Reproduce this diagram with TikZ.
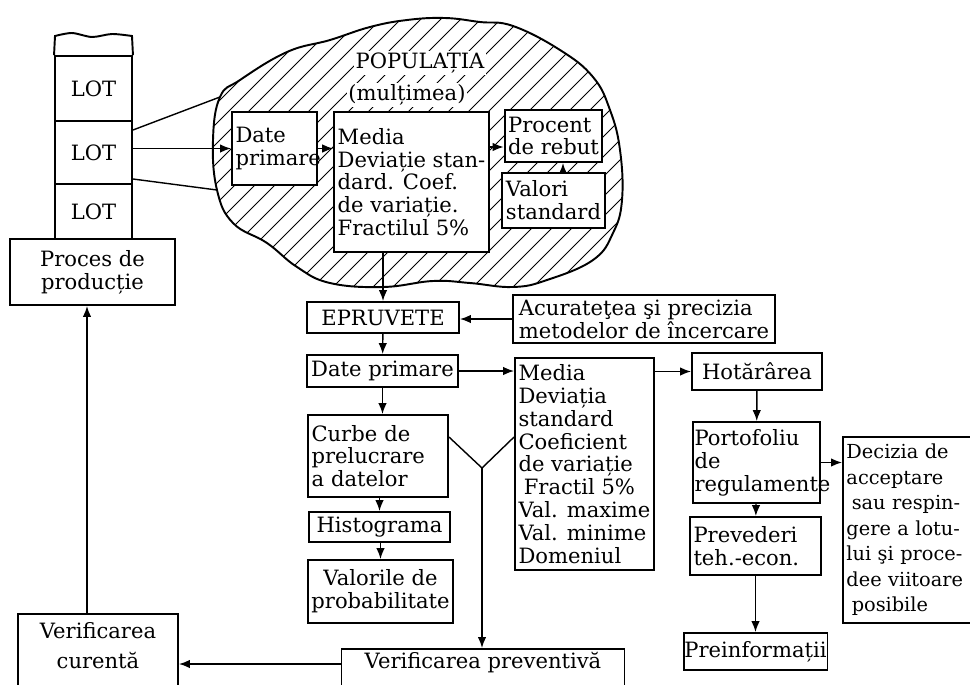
\documentclass[tikz,border=0pt]{standalone}
\usepackage{fontspec}
\setmainfont{DejaVu Serif}
\usetikzlibrary{arrows.meta}

\begin{document}
\begin{tikzpicture}[x=0.02cm, y=-0.02cm,
    >={Latex[length=2.2mm,width=1.7mm]},
    box/.style={draw, line width=1.1pt, fill=white, inner sep=2pt,
        font=\fontsize{12}{13}\selectfont},
    lbl/.style={fill=white, inner sep=1pt, font=\fontsize{12}{13}\selectfont},
    flow/.style={line width=0.8pt}]
    \useasboundingbox (0,0) rectangle (970,684);

    \begin{scope}[line width=1.1pt]
        \path [draw, clip] plot [smooth cycle, tension=0.7] coordinates {
            (213,140) (220,97) (240,80) (287,52) (330,40) (370,27) (407,20) (445,18)
            (480,22) (513,26) (560,50) (593,77) (610,110) (620,150) (622,200) (613,233)
            (593,260) (547,280) (513,287) (470,283) (433,281) (383,287) (330,283)
            (297,267) (267,243) (233,223) (217,190)};
        \foreach \c in {300,320,...,900}
            \draw [line width=0.5pt] ({\c-300},300) -- (\c,0);
    \end{scope}
    \coordinate (bu) at (220,97);
    \coordinate (bl) at (217,190);
    \path (420,63) node [lbl] (pop) {POPULAȚIA};
    \path (407,95) node [lbl] (mult) {(mulțimea)};

    \path (93.5,88.5) node [box, minimum width=1.54cm, minimum height=1.30cm] (lot1) {LOT};
    \path (93.5,152.5) node [box, minimum width=1.54cm, minimum height=1.26cm] (lot2) {LOT};
    \path (93.5,211.5) node [box, minimum width=1.54cm, minimum height=1.10cm] (lot3) {LOT};
    \draw [line width=1.1pt] (lot1.north west) -- plot [smooth] coordinates {(55,36) (72,33) (92,37) (112,34) (132,36)} -- (lot1.north east);
    \path (92.5,272) node [box, align=center, minimum width=3.30cm, minimum height=1.32cm] (prod) {Proces de\\producție};

    \path (274.5,148.5) node [box, align=left, text width=1.56cm, minimum height=1.46cm] (dp1) {Date\\primare};
    \path (411.5,182) node [box, align=left, minimum width=3.06cm, minimum height=2.80cm] (med1) {Media\\Deviație stan-\\dard. Coef.\\de variație.\\Fractilul 5\%};
    \path (553.5,136) node [box, align=left, minimum width=1.94cm, minimum height=1.04cm] (reb) {Procent\\de rebut};
    \path (553.5,200.5) node [box, align=left, minimum width=1.94cm, minimum height=1.10cm] (vst) {Valori\\standard};

    \draw [flow] ([yshift=0.45cm]lot2.east) -- (bu);
    \draw [flow,->] (lot2.east |- dp1.west) -- (dp1.west);
    \draw [flow] ([yshift=-0.53cm]lot2.east) -- (bl);
    \draw [flow,->] (dp1.east) -- (dp1.east -| med1.west);
    \coordinate (rebin) at ([yshift=-0.22cm]reb.west);
    \draw [flow,->] (rebin -| med1.east) -- (rebin);
    \draw [flow,->] ([xshift=0.19cm]vst.north) -- ([xshift=0.19cm]reb.south);

    \path (383,317.5) node [box, minimum width=3.04cm, minimum height=0.62cm] (epr) {EPRUVETE};
    \path (644,319) node [box, align=left, minimum width=5.24cm, minimum height=0.96cm] (acu) {Acurateţea şi precizia\\metodelor de încercare};
    \path (382.5,371) node [box, minimum width=3.02cm, minimum height=0.64cm] (dp2) {Date primare};
    \path (584.5,464) node [box, align=left, minimum width=2.70cm, minimum height=4.24cm] (med2) {Media\\Deviația\\standard\\Coeficient\\de variație\\\hspace{3pt}Fractil 5\%\\Val. maxime\\Val. minime\\Domeniul};
    \path (378,456) node [box, align=left, text width=2.66cm, minimum height=1.64cm] (curbe) {Curbe de\\prelucrare\\a datelor};
    \path (379.5,527) node [box, minimum width=2.82cm, minimum height=0.60cm] (hist) {Histograma};
    \path (380.5,591.5) node [box, align=center, minimum width=2.86cm, minimum height=1.26cm] (valp) {Valorile de\\probabilitate};
    \path (483,648) node [box, anchor=north, minimum width=5.66cm, text depth=1cm] (vprev) {Verificarea preventivă};
    \path (98,613) node [box, anchor=north, align=center, minimum width=3.20cm, inner ysep=5pt, text depth=1.2cm] (vcur) {Verificarea\\[4pt]curentă};

    \path (757,371.5) node [box, minimum width=2.60cm, minimum height=0.74cm] (hot) {Hotărârea};
    \path (756.5,462.5) node [box, align=left, text width=2.48cm, inner xsep=1pt, minimum height=1.62cm] (port) {Portofoliu\\de\\regulamente};
    \path (755.5,546) node [box, align=left, text width=2.48cm, minimum height=1.16cm] (prev) {Prevederi\\teh.-econ.};
    \path (755.5,651.5) node [box, inner xsep=0.5pt, minimum width=2.62cm, minimum height=0.74cm] (pre) {Preinformații};
    \path (842,530) node [box, anchor=west, align=left, text width=2.9cm, minimum height=3.72cm, font=\fontsize{11}{14.5}\selectfont] (dec) {Decizia de\\acceptare\\\hspace{3pt}sau respin-\\gere a lotu-\\lui şi proce-\\dee viitoare\\\hspace{3pt}posibile};

    \draw [flow,->] (epr.north |- med1.south) -- (epr.north);
    \draw [flow,->] (acu.west) -- (acu.west -| epr.east);
    \draw [flow,->] (epr) -- (dp2);
    \draw [flow,->] (dp2.east) -- (dp2.east -| med2.west);
    \draw [flow,->] (dp2.south) -- (dp2.south |- curbe.north);
    \draw [flow,->] (hist.north |- curbe.south) -- (hist.north);
    \draw [flow,->] (valp.north |- hist.south) -- (valp.north);
    \coordinate (vj) at (482,468);
    \draw [flow] ([yshift=0.38cm]curbe.east) -- (vj) -- ([yshift=0.54cm]med2.west);
    \draw [flow,->] (vj) -- (vj |- vprev.north);
    \coordinate (vpw) at ([yshift=-0.32cm]vprev.north west);
    \draw [flow,->] (vpw) -- (vpw -| vcur.east);
    \coordinate (vcn) at ([xshift=-0.22cm]vcur.north);
    \draw [flow,->] (vcn) -- (vcn |- prod.south);

    \draw [flow,->] (med2.east |- hot.west) -- (hot.west);
    \draw [flow,->] (hot) -- (port);
    \draw [flow,->] (port) -- (prev);
    \draw [flow,->] (prev) -- (pre);
    \draw [flow,->] (port.east) -- (port.east -| dec.west);
\end{tikzpicture}
\end{document}
